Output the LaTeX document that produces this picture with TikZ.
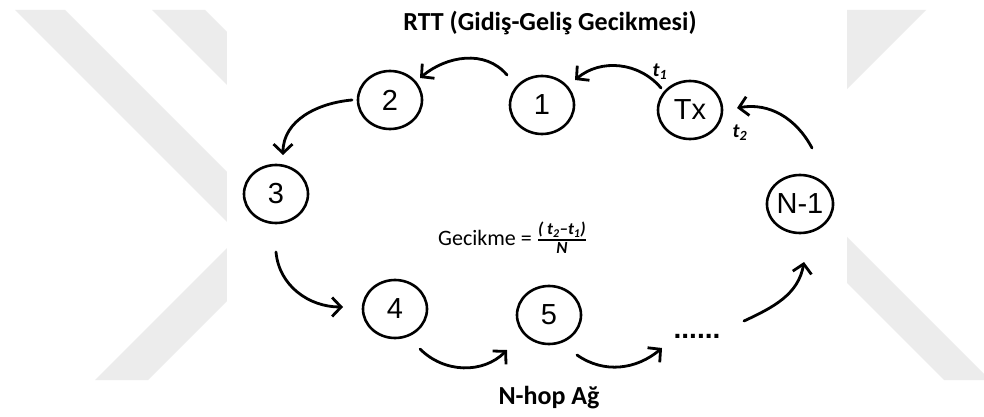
\documentclass[tikz,border=0pt]{standalone}
\usepackage{fontspec}
\usepackage{amsmath}
\setmainfont{Carlito}
\newfontfamily\hopfont{Liberation Sans}
\usetikzlibrary{shapes.geometric,arrows.meta}
\definecolor{watermark}{RGB}{236,236,236}

\tikzset{
  hop/.style={draw,ellipse,line width=2.6pt,minimum width=64pt,minimum height=58pt,inner sep=0pt,
    font=\hopfont\fontsize{29}{29}\selectfont},
  link/.style={line width=2.8pt,line cap=round,-{Straight Barb[length=9pt,width=19pt]}},
  caption/.style={font=\fontsize{26}{30}\selectfont\bfseries},
  stamp/.style={font=\fontsize{20}{22}\selectfont\bfseries\itshape,inner sep=0pt}
}

\begin{document}
\begin{tikzpicture}[x=1pt,y=1pt]
\useasboundingbox (0,0) rectangle (984,416);
\clip (0,0) rectangle (984,416);
\fill[white] (0,0) rectangle (984,416);
% grey bands at both sides
\fill[watermark] (15,406) -- (65,406) -- (240,231) -- (240,181) -- cycle;
\fill[watermark] (152,406) -- (205,406) -- (240,371) -- (240,318) -- cycle;
\fill[watermark] (95,36) -- (240,181) -- (240,128) -- (148,36) -- cycle;
\fill[watermark] (830,406) -- (926,406) -- (830,310) -- cycle;
\fill[watermark] (840,186) -- (990,36) -- (944,36) -- (840,140) -- cycle;
\fill[white] (227,0) rectangle (847,416);

\node[caption] (title) at (550,393) {RTT (Gidiş-Geliş Gecikmesi)};
\node[caption] (net) at (549,18) {N-hop Ağ};

% the hops of the ring
\node[hop] (tx) at (690,306) {Tx};
\node[hop] (n1) at (542,311) {1};
\node[hop] (n2) at (390,316) {2};
\node[hop] (n3) at (276,222) {3};
\node[hop] (n4) at (395,107) {4};
\node[hop] (n5) at (549,101) {5};
\node[hop] (nlast) at (800,212) {N-1};
\node[font=\hopfont\fontsize{28}{28}\selectfont\bfseries,inner sep=0pt] (dots) at (697,80) {......};

\node[stamp] (t1) at (660,344) {t\textsubscript{1}};
\node[stamp] (t2) at (740,283) {t\textsubscript{2}};

\node[anchor=base west,inner sep=0pt,font=\fontsize{22}{24}\selectfont] (delay) at (438,171)
  {Gecikme = $\genfrac{}{}{1.6pt}{}{\hbox{\fontsize{17}{18}\selectfont\bfseries\itshape ( t\textsubscript{2}--t\textsubscript{1})}}{\hbox{\fontsize{17}{18}\selectfont\bfseries\itshape N}}$};

% packet goes round the ring
\draw[link] ([shift={(-29,22)}]tx.center) to[out=130,in=40] ([shift={(33,25)}]n1.center);
\draw[link] ([shift={(-35,30)}]n1.center) to[out=130,in=40] ([shift={(30,22)}]n2.center);
\draw[link] ([shift={(-38,0)}]n2.center) to[out=185,in=90] ([shift={(7,39)}]n3.center);
\draw[link] ([shift={(0,-58)}]n3.center) to[out=-85,in=180] ([shift={(-52,2)}]n4.center);
\draw[link] ([shift={(25,-40)}]n4.center) to[out=-45,in=-135] ([shift={(-42,-35)}]n5.center);
\draw[link] ([shift={(28,-40)}]n5.center) to[out=-35,in=-140] ([shift={(-35,-12)}]dots.center);
\draw[link] ([shift={(47,15)}]dots.center) to[out=25,in=-100] ([shift={(4,-58)}]nlast.center);
\draw[link] ([shift={(12,56)}]nlast.center) to[out=118,in=10] ([shift={(47,2)}]tx.center);
\end{tikzpicture}
\end{document}
